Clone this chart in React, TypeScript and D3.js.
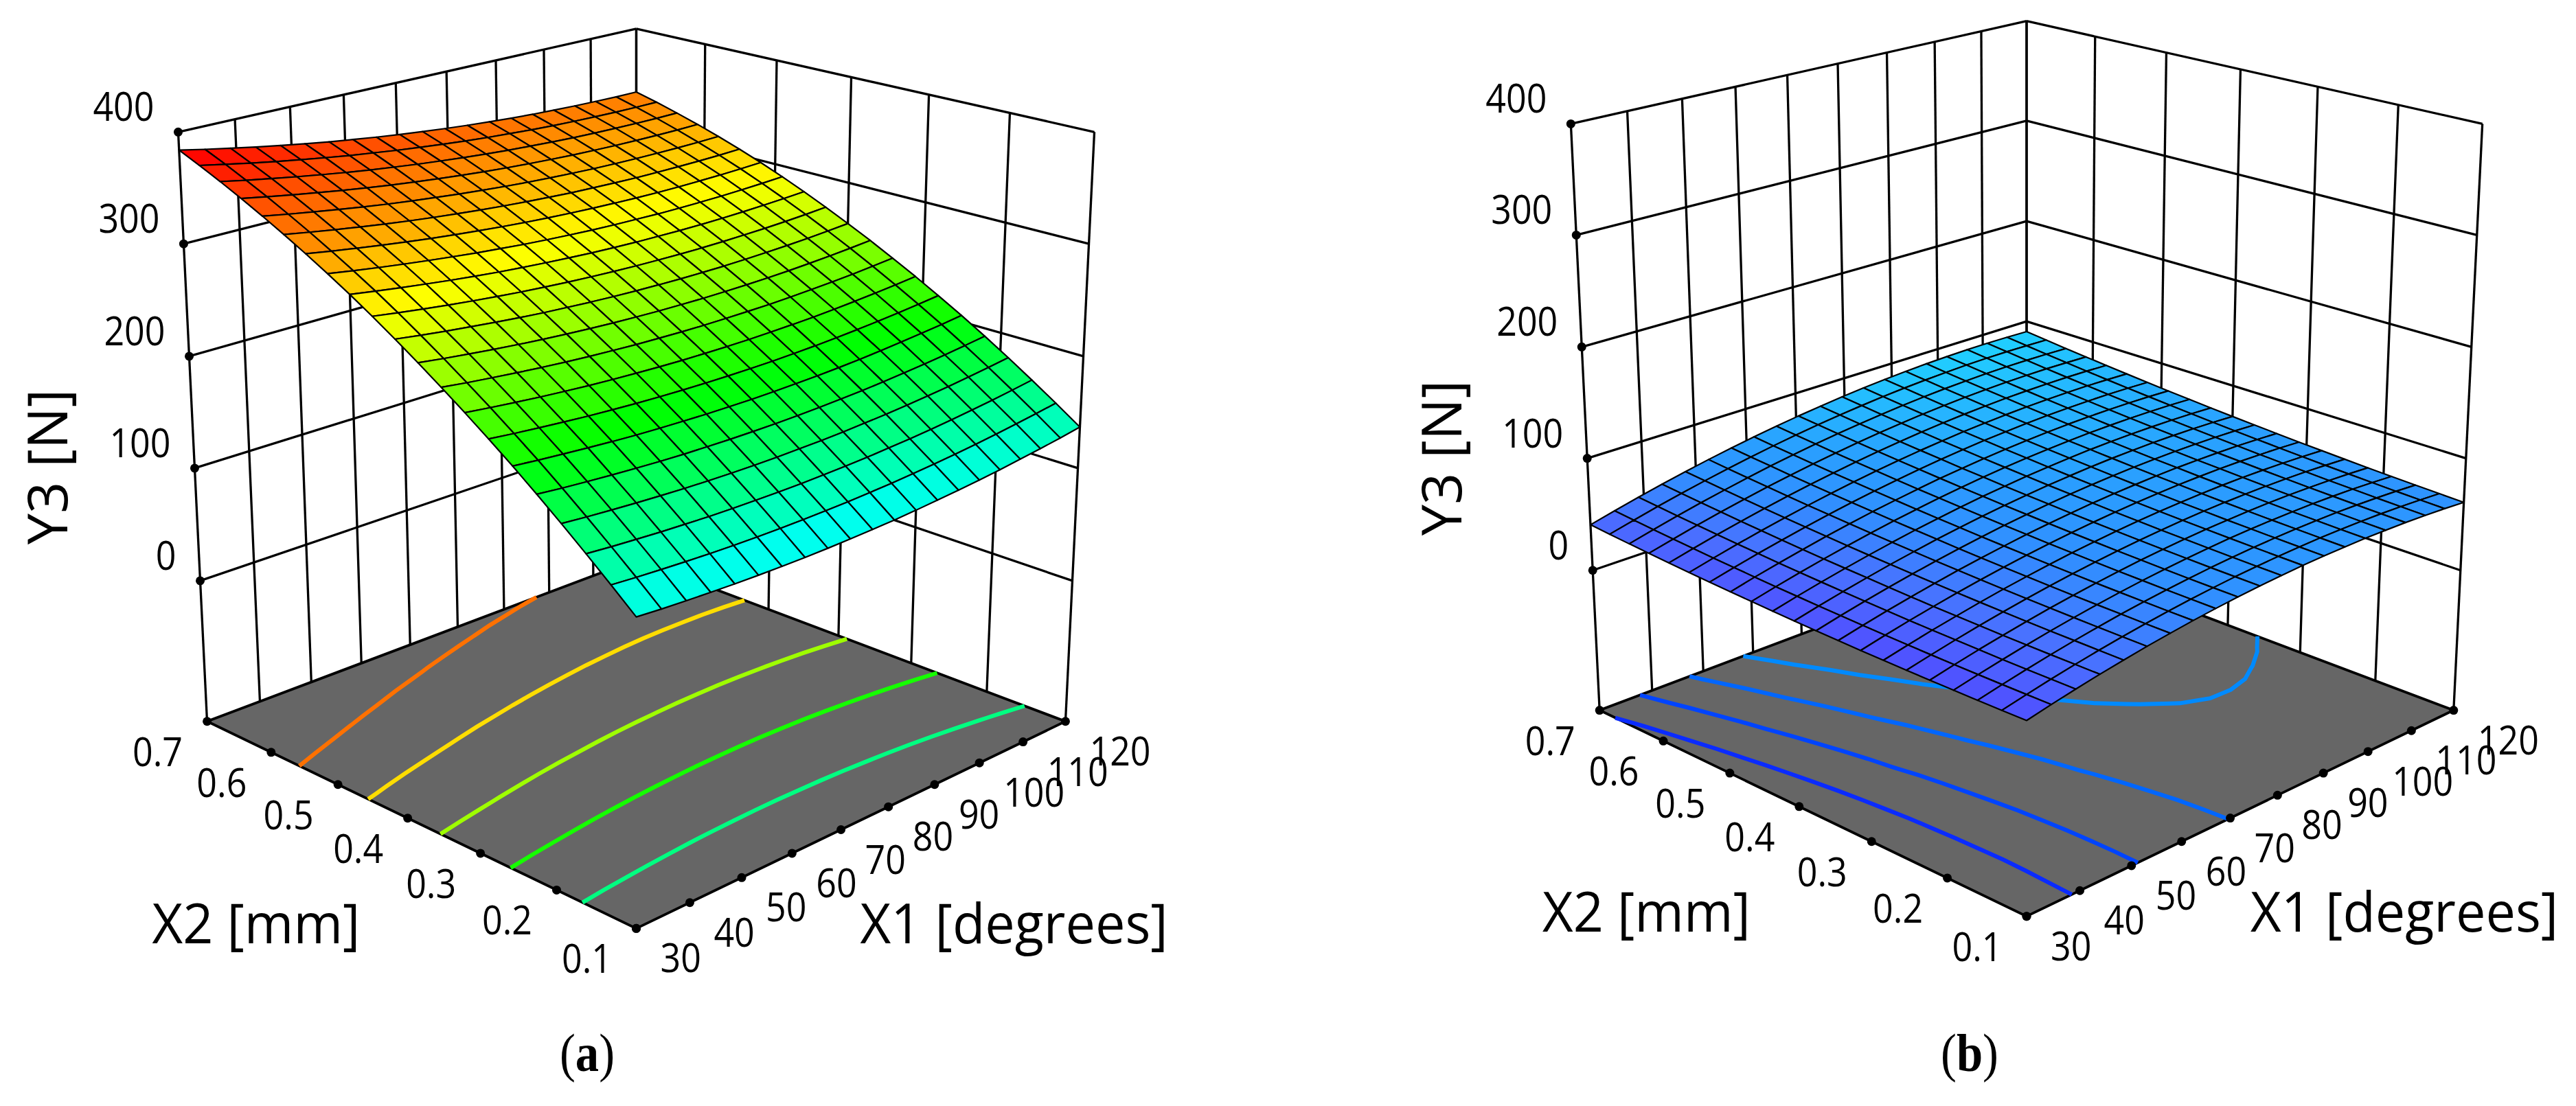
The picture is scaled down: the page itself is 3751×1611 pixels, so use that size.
import React from "react";
import * as d3 from "d3";

const x1Ticks = [30, 40, 50, 60, 70, 80, 90, 100, 110, 120];
const x2Ticks = [0.1, 0.2, 0.3, 0.4, 0.5, 0.6, 0.7];
const y3Ticks = [0, 100, 200, 300, 400];
const floorY3 = -133.33;

// Y3, rows go X2 0.1 -> 0.7, columns X1 30 -> 120
const surfaceA = [
  [123,121.4,120.2,119.2,118.3,117.7,117.3,117.2,117.3,117.7,118.3,119,120.1,121.5,122.9,124.7,126.7,129,131.4,134,137],
  [140.8,139.1,137.7,136.5,135.5,134.7,134.2,134,133.9,134.1,134.5,135.2,136.1,137.3,138.6,140.2,142.1,144.2,146.5,149,151.8],
  [158.1,156.2,154.7,153.3,152.2,151.2,150.6,150.2,150,150,150.3,150.8,151.5,152.6,153.7,155.2,156.9,158.9,161,163.4,166],
  [174.9,172.9,171.2,169.7,168.4,167.3,166.5,165.9,165.5,165.4,165.6,165.9,166.5,167.4,168.4,169.7,171.3,173.1,175.1,177.3,179.8],
  [191.2,189,187.2,185.5,184.1,182.8,181.8,181.2,180.6,180.4,180.3,180.5,181,181.7,182.6,183.7,185.2,186.8,188.6,190.7,193],
  [207,204.7,202.7,200.9,199.2,197.8,196.7,195.9,195.2,194.8,194.6,194.7,195,195.5,196.2,197.2,198.5,200,201.7,203.6,205.8],
  [222.3,219.8,217.7,215.7,213.9,212.4,211.1,210.1,209.3,208.7,208.4,208.3,208.4,208.8,209.4,210.3,211.4,212.7,214.2,216,218],
  [237.1,234.5,232.2,230,228.1,226.4,225,223.9,222.9,222.1,221.7,221.4,221.4,221.7,222.1,222.7,223.7,224.9,226.3,227.9,229.8],
  [251.4,248.6,246.2,243.9,241.8,240,238.4,237.1,235.9,235.1,234.4,234,233.9,234,234.2,234.8,235.6,236.6,237.8,239.3,241],
  [265.2,262.3,259.7,257.2,255,253,251.3,249.8,248.5,247.5,246.7,246.2,245.8,245.8,245.9,246.3,246.9,247.8,248.9,250.2,251.8],
  [278.5,275.4,272.6,270.1,267.7,265.5,263.6,262.1,260.6,259.4,258.5,257.8,257.3,257.1,257,257.3,257.8,258.5,259.4,260.6,262],
  [291.3,288.1,285.1,282.4,279.9,277.6,275.5,273.8,272.2,270.9,269.8,268.9,268.3,267.9,267.7,267.8,268.2,268.7,269.5,270.5,271.8],
  [303.6,300.2,297.1,294.3,291.6,289.1,286.9,285,283.3,281.8,280.5,279.5,278.7,278.3,277.9,277.8,278,278.4,279.1,279.9,281],
  [315.4,311.9,308.6,305.6,302.8,300.2,297.8,295.8,293.8,292.2,290.8,289.6,288.7,288.1,287.5,287.3,287.4,287.6,288.1,288.8,289.8],
  [326.7,323,319.6,316.4,313.5,310.7,308.2,306,303.9,302.1,300.6,299.3,298.2,297.4,296.7,296.3,296.2,296.4,296.7,297.2,298],
  [337.5,333.7,330.1,326.8,323.6,320.7,318.1,315.7,313.5,311.6,309.9,308.4,307.1,306.2,305.4,304.8,304.6,304.6,304.7,305.1,305.8],
  [347.8,343.8,340.1,336.6,333.3,330.2,327.5,325,322.6,320.5,318.6,317,315.6,314.5,313.5,312.9,312.5,312.3,312.3,312.5,313],
  [357.6,353.5,349.6,346,342.5,339.3,336.3,333.7,331.2,328.9,326.9,325.1,323.6,322.3,321.2,320.4,319.8,319.5,319.3,319.4,319.8],
  [366.9,362.6,358.6,354.8,351.2,347.8,344.7,341.9,339.2,336.9,334.7,332.8,331.1,329.7,328.4,327.4,326.7,326.2,325.9,325.8,326],
  [375.7,371.3,367.1,363.1,359.4,355.9,352.6,349.7,346.8,344.3,342,339.9,338,336.5,335,333.9,333,332.4,331.9,331.7,331.8],
  [384,379.4,375.1,371,367.1,363.4,360,356.9,353.9,351.2,348.8,346.5,344.5,342.8,341.2,339.9,338.9,338.1,337.5,337.1,337],
];

const surfaceB = [
  [32,36.4,40.5,44.3,47.7,50.9,53.7,56.3,58.5,60.4,62,63.3,64.3,65,65.3,65.4,65.1,64.6,63.7,62.5,61],
  [31.7,36.1,40.3,44.1,47.6,50.8,53.7,56.3,58.6,60.5,62.2,63.5,64.6,65.3,65.7,65.8,65.6,65.1,64.3,63.1,61.7],
  [31.4,35.9,40.1,44,47.6,50.8,53.8,56.4,58.7,60.7,62.4,63.8,64.9,65.7,66.2,66.3,66.2,65.7,64.9,63.8,62.4],
  [31.3,35.8,40,44,47.6,50.9,53.9,56.6,59,61,62.8,64.2,65.4,66.2,66.7,66.9,66.8,66.4,65.7,64.6,63.3],
  [31.2,35.8,40.1,44,47.7,51.1,54.1,56.8,59.3,61.4,63.2,64.7,65.9,66.7,67.3,67.6,67.5,67.1,66.5,65.5,64.2],
  [31.2,35.8,40.2,44.2,47.9,51.3,54.4,57.2,59.7,61.8,63.7,65.2,66.5,67.4,68,68.3,68.3,68,67.4,66.4,65.2],
  [31.3,36,40.4,44.4,48.2,51.7,54.8,57.6,60.2,62.4,64.3,65.9,67.2,68.1,68.8,69.2,69.2,68.9,68.4,67.5,66.3],
  [31.4,36.2,40.6,44.7,48.6,52.1,55.3,58.1,60.7,63,64.9,66.6,67.9,68.9,69.7,70.1,70.2,70,69.4,68.6,67.4],
  [31.7,36.5,41,45.1,49,52.6,55.8,58.7,61.4,63.7,65.7,67.4,68.8,69.8,70.6,71.1,71.2,71,70.6,69.8,68.7],
  [32,36.9,41.4,45.6,49.5,53.1,56.4,59.4,62.1,64.5,66.5,68.3,69.7,70.8,71.6,72.1,72.3,72.2,71.8,71.1,70],
  [32.4,37.3,41.9,46.2,50.2,53.8,57.2,60.2,62.9,65.3,67.4,69.2,70.7,71.9,72.8,73.3,73.6,73.5,73.1,72.4,71.4],
  [32.9,37.9,42.5,46.8,50.8,54.5,58,61,63.8,66.3,68.4,70.3,71.8,73,74,74.5,74.8,74.8,74.5,73.9,72.9],
  [33.5,38.5,43.2,47.5,51.6,55.4,58.8,61.9,64.8,67.3,69.5,71.4,73,74.2,75.2,75.9,76.2,76.2,76,75.4,74.5],
  [34.1,39.2,43.9,48.3,52.5,56.3,59.8,62.9,65.8,68.4,70.6,72.6,74.2,75.5,76.6,77.3,77.7,77.7,77.5,77,76.1],
  [34.9,40,44.8,49.2,53.4,57.3,60.8,64,66.9,69.6,71.9,73.9,75.6,76.9,78,78.8,79.2,79.3,79.2,78.7,77.9],
  [35.7,40.8,45.7,50.2,54.4,58.3,61.9,65.2,68.2,70.8,73.2,75.2,77,78.4,79.5,80.3,80.8,81,80.9,80.4,79.7],
  [36.6,41.8,46.7,51.2,55.5,59.5,63.1,66.4,69.5,72.2,74.6,76.7,78.5,80,81.1,82,82.5,82.7,82.7,82.3,81.6],
  [37.6,42.8,47.8,52.4,56.7,60.7,64.4,67.8,70.8,73.6,76.1,78.2,80.1,81.6,82.8,83.7,84.3,84.6,84.6,84.2,83.6],
  [38.6,43.9,48.9,53.6,57.9,62,65.8,69.2,72.3,75.1,77.6,79.8,81.7,83.3,84.6,85.5,86.2,86.5,86.5,86.2,85.6],
  [39.8,45.1,50.2,54.9,59.3,63.4,67.2,70.7,73.9,76.7,79.3,81.5,83.5,85.1,86.4,87.4,88.1,88.5,88.6,88.3,87.8],
  [41,46.4,51.5,56.3,60.7,64.9,68.7,72.3,75.5,78.4,81,83.3,85.3,87,88.3,89.4,90.1,90.6,90.7,90.5,90],
];

const contourLevelsA = [162, 212, 258, 302, 340];
const contourLevelsB = [40, 50, 60, 69.5, 80];

const FONT = "'Open Sans', sans-serif";
const ELEV = (20 * Math.PI) / 180;
const CAM_DIST = 10.5;

// box height is not linear on screen, these are the read off levels in box units
const y3Box = d3.scaleLinear([floorY3, 0, 100, 200, 300, 400], [-1, -0.4987, -0.1087, 0.2696, 0.6402, 1]);
const x1Box = d3.scaleLinear([30, 120], [0, 1]);
const x2Box = d3.scaleLinear([0.1, 0.7], [0, 1]);

type Pt = [number, number];

function camera(cx: number, cy: number, g: number) {
  return (x1: number, x2: number, y3: number): Pt => {
    const a = 2 * x1Box(x1) - 1;
    const b = 2 * x2Box(x2) - 1;
    const c = y3Box(y3);
    const s = (a - b) / Math.SQRT2;
    const t = (a + b) / Math.SQRT2;
    const up = c * Math.cos(ELEV) + t * Math.sin(ELEV);
    const depth = 1 + (t * Math.cos(ELEV) - c * Math.sin(ELEV)) / CAM_DIST;
    return [cx + (g * s) / depth, cy - (g * up) / depth];
  };
}

const line = d3.line<Pt>();

// open iso lines in grid units, the border runs of each ring are dropped
function isoLines(grid: number[][], level: number): Pt[][] {
  const n = grid.length;
  const shape = d3.contours().size([n, n]).thresholds([level])(grid.flat())[0];
  const clamp = (d: number) => Math.min(n - 0.5, Math.max(0.5, d)) - 0.5;
  const out: Pt[][] = [];
  shape.coordinates.forEach((poly: number[][][]) =>
    poly.forEach((ring) => {
      const pts = ring.map((p) => [clamp(p[0]), clamp(p[1])] as Pt);
      let run: Pt[] = [];
      pts.forEach((p, i) => {
        const q = pts[i + 1];
        const onBorder = (k: number) => q && (k === 0 || k === n - 1);
        const border = q && ((p[0] === q[0] && onBorder(p[0])) || (p[1] === q[1] && onBorder(p[1])));
        if (border) {
          if (run.length) out.push([...run, p]);
          run = [];
        } else {
          run.push(p);
        }
      });
      if (run.length > 1) out.push(run);
    })
  );
  return out;
}

function Label({ x, y, size, sx = 1, anchor = "start", rotate = 0, children }: any) {
  return (
    <text
      transform={`translate(${x},${y}) rotate(${rotate}) scale(${sx},1)`}
      fontFamily={FONT}
      fontSize={size}
      textAnchor={anchor}
      fill="#000"
    >
      {children}
    </text>
  );
}

function Panel({ cx, cy, g, grid, levels, surfaceColor, contourColor, y3Label, tag, tagX }: any) {
  const project = camera(cx, cy, g);
  const ln = (a: Pt, b: Pt) => line([a, b]) as string;
  const x1Grid = d3.scaleLinear([0, grid[0].length - 1], [30, 120]);
  const x2Grid = d3.scaleLinear([0, grid.length - 1], [0.1, 0.7]);
  const x1Hi = 120, x1Lo = 30, x2Hi = 0.7, x2Lo = 0.1, top = 400;

  const cells: { d: string; fill: string; depth: number }[] = [];
  for (let j = 0; j < grid.length - 1; j++) {
    for (let i = 0; i < grid[0].length - 1; i++) {
      const corners = [[i, j], [i + 1, j], [i + 1, j + 1], [i, j + 1]];
      const pts = corners.map(([a, b]) => project(x1Grid(a), x2Grid(b), grid[b][a]));
      const mean = d3.mean(corners, ([a, b]) => grid[b][a]) as number;
      cells.push({ d: (line(pts) as string) + "Z", fill: surfaceColor(mean), depth: i + j });
    }
  }
  cells.sort((a, b) => b.depth - a.depth);

  const floor = [
    project(x1Lo, x2Lo, floorY3),
    project(x1Hi, x2Lo, floorY3),
    project(x1Hi, x2Hi, floorY3),
    project(x1Lo, x2Hi, floorY3),
  ];
  const frontY = project(x1Lo, x2Lo, floorY3)[1];

  return (
    <g>
      {/* back walls */}
      <g stroke="#000" strokeWidth={3.3} fill="none">
        {x1Ticks.map((t) => (
          <path key={"wa" + t} d={ln(project(t, x2Hi, floorY3), project(t, x2Hi, top))} />
        ))}
        {x2Ticks.map((t) => (
          <path key={"wb" + t} d={ln(project(x1Hi, t, floorY3), project(x1Hi, t, top))} />
        ))}
        {y3Ticks.map((t) => (
          <g key={"h" + t}>
            <path d={ln(project(x1Lo, x2Hi, t), project(x1Hi, x2Hi, t))} />
            <path d={ln(project(x1Hi, x2Hi, t), project(x1Hi, x2Lo, t))} />
          </g>
        ))}
      </g>

      <path d={(line(floor) as string) + "Z"} fill="#666666" stroke="#000" strokeWidth={3.8} />

      {levels.map((lv: number) =>
        isoLines(grid, lv).map((run, i) => (
          <path
            key={lv + "-" + i}
            d={line(run.map(([a, b]) => project(x1Grid(a), x2Grid(b), floorY3))) as string}
            fill="none"
            stroke={contourColor(lv)}
            strokeWidth={6}
          />
        ))
      )}

      {cells.map((c, i) => (
        <path key={i} d={c.d} fill={c.fill} stroke="#000" strokeWidth={2.2} strokeLinejoin="round" />
      ))}

      {/* tick dots and labels */}
      {x1Ticks.map((t) => {
        const [x, y] = project(t, x2Lo, floorY3);
        return (
          <g key={"x1" + t}>
            <circle cx={x} cy={y} r={6.5} fill="#000" />
            <Label x={x + 35} y={y + 64} size={59} sx={0.88}>{t}</Label>
          </g>
        );
      })}
      {x2Ticks.map((t) => {
        const [x, y] = project(x1Lo, t, floorY3);
        return (
          <g key={"x2" + t}>
            <circle cx={x} cy={y} r={6.5} fill="#000" />
            <Label x={x - 72} y={y + 65} size={59} sx={0.88} anchor="middle">{t.toFixed(1)}</Label>
          </g>
        );
      })}
      {y3Ticks.map((t) => {
        const [x, y] = project(x1Lo, x2Hi, t);
        return (
          <g key={"y3" + t}>
            <circle cx={x} cy={y} r={6.5} fill="#000" />
            <Label x={x - 35} y={y - 16} size={59} sx={0.88} anchor="end">{t}</Label>
          </g>
        );
      })}

      <Label x={y3Label[0]} y={y3Label[1]} size={81} sx={1} anchor="middle" rotate={-90}>Y3 [N]</Label>
      <Label x={cx - 705} y={frontY + 22} size={81} sx={0.955}>X2 [mm]</Label>
      <Label x={cx + 326} y={frontY + 22} size={81} sx={0.956}>X1 [degrees]</Label>

      <text
        transform={`translate(${tagX},1560) scale(0.88,1)`}
        textAnchor="middle"
        fontFamily="'Liberation Serif', serif"
        fontSize={78}
        fill="#000"
      >
        (<tspan fontWeight="bold">{tag}</tspan>)
      </text>
    </g>
  );
}

const rainbowA = d3.scaleLinear<string>([120, 205, 290, 380], ["#00ffff", "#00ff00", "#ffff00", "#ff0000"]).clamp(true);
const surfaceColorB = d3
  .scaleLinear<string>([32, 45, 60, 70, 80, 90], ["#5050ff", "#4a70ff", "#3090ff", "#2a9eff", "#26b4ff", "#20ceff"])
  .clamp(true);
const contourColorB = d3.scaleLinear<string>([40, 50, 60, 70, 80], ["#0a2bff", "#0044ff", "#0066ff", "#008cff", "#00b0ff"]);

export default function App() {
  return (
    <svg width={3751} height={1611} style={{ position: "absolute", left: 0, top: 0, background: "#fff" }}>
      <Panel cx={926.5} cy={635.5} g={456.3} grid={surfaceA} levels={contourLevelsA}
        surfaceColor={rainbowA} contourColor={rainbowA} y3Label={[98, 680]} tag="a" tagX={855} />
      <Panel cx={2951} cy={621.4} g={454} grid={surfaceB} levels={contourLevelsB}
        surfaceColor={surfaceColorB} contourColor={contourColorB} y3Label={[2128, 667]} tag="b" tagX={2868} />
    </svg>
  );
}
